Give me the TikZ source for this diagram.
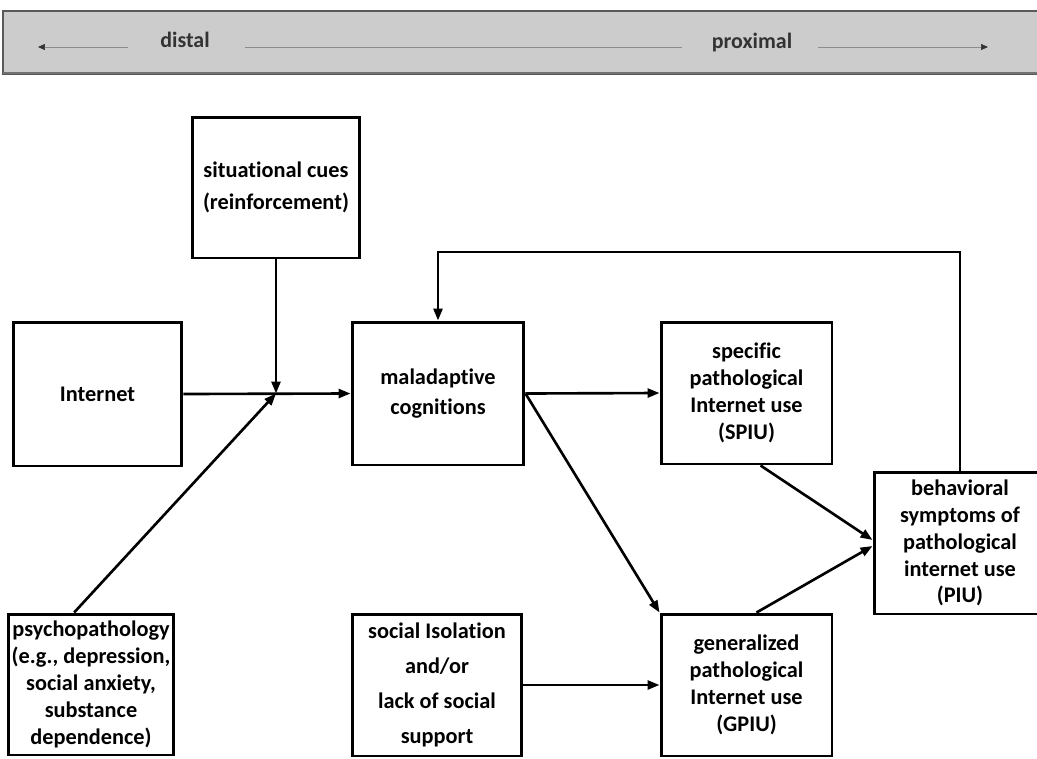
\documentclass[tikz,border=0pt]{standalone}
\usepackage{fontspec}
\setmainfont{Carlito}[Ligatures=NoCommon]
\usetikzlibrary{arrows.meta,calc}

\begin{document}
\begin{tikzpicture}[x=0.02cm,y=-0.02cm,
  box/.style={draw=black, line width=1.7pt, fill=white, align=center, inner sep=2pt,
    font=\bfseries\fontsize{12.7}{15.3}\selectfont},
  link/.style={line width=1.5pt, -{Triangle[length=0.24cm,width=0.18cm]}},
  scaletext/.style={font=\bfseries\fontsize{12.5}{14}\selectfont, text=black!80, inner sep=1pt},
  scaleline/.style={draw=black!45, line width=0.4pt}]
\useasboundingbox (0,0) rectangle (1037,758);

% distal / proximal scale bar
\fill[black!20] (3,11) rectangle (1050,74);
\draw[black!65, line width=0.8pt] (1050,11) -- (3,11) -- (3,74) -- (1050,74);
\draw[black!55, line width=1.6pt] (3,73) -- (1050,73);
\node[scaletext] (distal) at (185,40) {distal};
\node[scaletext] (proximal) at (752,43) {proximal};
\coordinate (scaleL) at (38,47);
\coordinate (scaleR) at (988,47);
\draw[scaleline, {Triangle[length=0.14cm,width=0.12cm,color=black!80]}-] (scaleL) -- (128,47);
\draw[scaleline] (245,47) -- (682,47);
\draw[scaleline, -{Triangle[length=0.14cm,width=0.12cm,color=black!80]}] (818,47) -- (scaleR);

% boxes
\node[box, minimum width=3.36cm, minimum height=2.82cm] (cues) at (276,187.5)
  {situational cues\\[3pt](reinforcement)};
\node[box, minimum width=3.38cm, minimum height=2.88cm] (internet) at (97.5,394) {Internet};
\node[box, minimum width=3.44cm, minimum height=2.86cm] (malad) at (438,393.5)
  {maladaptive\\[1.5pt]cognitions};
\node[box, minimum width=3.42cm, minimum height=2.84cm] (spiu) at (746.5,393)
  {specific\\pathological\\Internet use\\(SPIU)};
\node[box, minimum width=3.44cm, minimum height=2.84cm] (piu) at (960,543)
  {behavioral\\symptoms of\\pathological\\internet use\\(PIU)};
\node[box, minimum width=3.24cm, minimum height=2.82cm] (psycho) at (91,684.5)
  {psychopathology\\(e.g., depression,\\social anxiety,\\substance\\dependence)};
\node[box, minimum width=3.40cm, minimum height=2.84cm] (social) at (437,685)
  {social Isolation\\[4.5pt]and/or\\[4.5pt]lack of social\\[4.5pt]support};
\node[box, minimum width=3.42cm, minimum height=2.84cm] (gpiu) at (746.5,685)
  {generalized\\pathological\\Internet use\\(GPIU)};

% connectors
\coordinate (join) at (276,393.5);
\draw[link] (internet.east) -- (malad.west);
\draw[link] (cues.south) -- (join);
\draw[link] ($(psycho.north west)!0.4!(psycho.north east)$) -- (join);
\draw[link] (malad.east) -- (spiu.west);
\draw[link] (malad.east) -- (gpiu.north west);
\draw[link] (social.east) -- (gpiu.west);
\draw[link] ([xshift=0.28cm]spiu.south) -- ([yshift=0.06cm]piu.west);
\draw[link] ([xshift=0.2cm]gpiu.north) -- ([yshift=-0.06cm]piu.west);
\coordinate (loop) at (0,252);
\draw[link] (piu.north) -- (piu.north |- loop) -- (malad.north |- loop) -- (malad.north);
\end{tikzpicture}
\end{document}
